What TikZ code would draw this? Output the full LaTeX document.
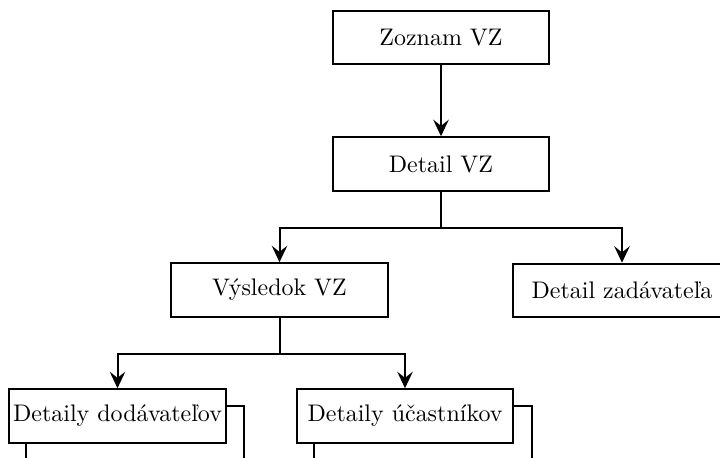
\documentclass[tikz,border=0pt]{standalone}
\usepackage{fontspec}
\usetikzlibrary{arrows.meta,calc}
\begin{document}
\begin{tikzpicture}[x=0.4255pt,y=-0.4255pt,
  box/.style={draw, line width=0.85pt, minimum width=92.3pt, minimum height=22.8pt, inner xsep=1.5pt, font=\fontsize{10.2}{12}\selectfont},
  conn/.style={line width=0.85pt},
  arr/.style={conn, -{Stealth[length=7pt,width=6.6pt,inset=2.6pt]}}]
\useasboundingbox (0,0) rectangle (720,457);
\clip (0,0) rectangle (720,457);
\node[box] (zoz) at (441,37.5) {Zoznam VZ};
\node[box] (det) at (441,164) {Detail VZ};
\node[box] (vys) at (279.5,290) {Výsledok VZ};
\node[box, minimum width=92.8pt] (zad) at (622,290.5) {Detail zadávateľa};
\node[box] (dod) at (117.5,416) {Detaily dodávateľov};
\node[box] (uca) at (405,416) {Detaily účastníkov};
\draw[arr] (zoz) -- (det);
\draw[arr] (det.south) -- ++(0,36) -| (vys.north);
\draw[arr] (det.south) -- ++(0,36) -| (zad.north);
\draw[arr] (vys.south) -- ++(0,36) -| (dod.north);
\draw[arr] (vys.south) -- ++(0,36) -| (uca.north);
% continuing connectors (cut off by the frame)
\coordinate (dodRa) at ($(dod.north east)+(0,18)$);
\coordinate (dodRb) at ($(dod.north east)+(17,18)$);
\coordinate (dodRc) at ($(dod.north east)+(17,120)$);
\coordinate (dodBa) at ($(dod.south west)+(18,0)$);
\coordinate (dodBb) at ($(dod.south west)+(18,60)$);
\coordinate (ucaRa) at ($(uca.north east)+(0,18)$);
\coordinate (ucaRb) at ($(uca.north east)+(18,18)$);
\coordinate (ucaRc) at ($(uca.north east)+(18,120)$);
\coordinate (ucaBa) at ($(uca.south west)+(18,0)$);
\coordinate (ucaBb) at ($(uca.south west)+(18,60)$);
\draw[conn] (dodRa) -- (dodRb) -- (dodRc);
\draw[conn] (dodBa) -- (dodBb);
\draw[conn] (ucaRa) -- (ucaRb) -- (ucaRc);
\draw[conn] (ucaBa) -- (ucaBb);
\end{tikzpicture}
\end{document}
